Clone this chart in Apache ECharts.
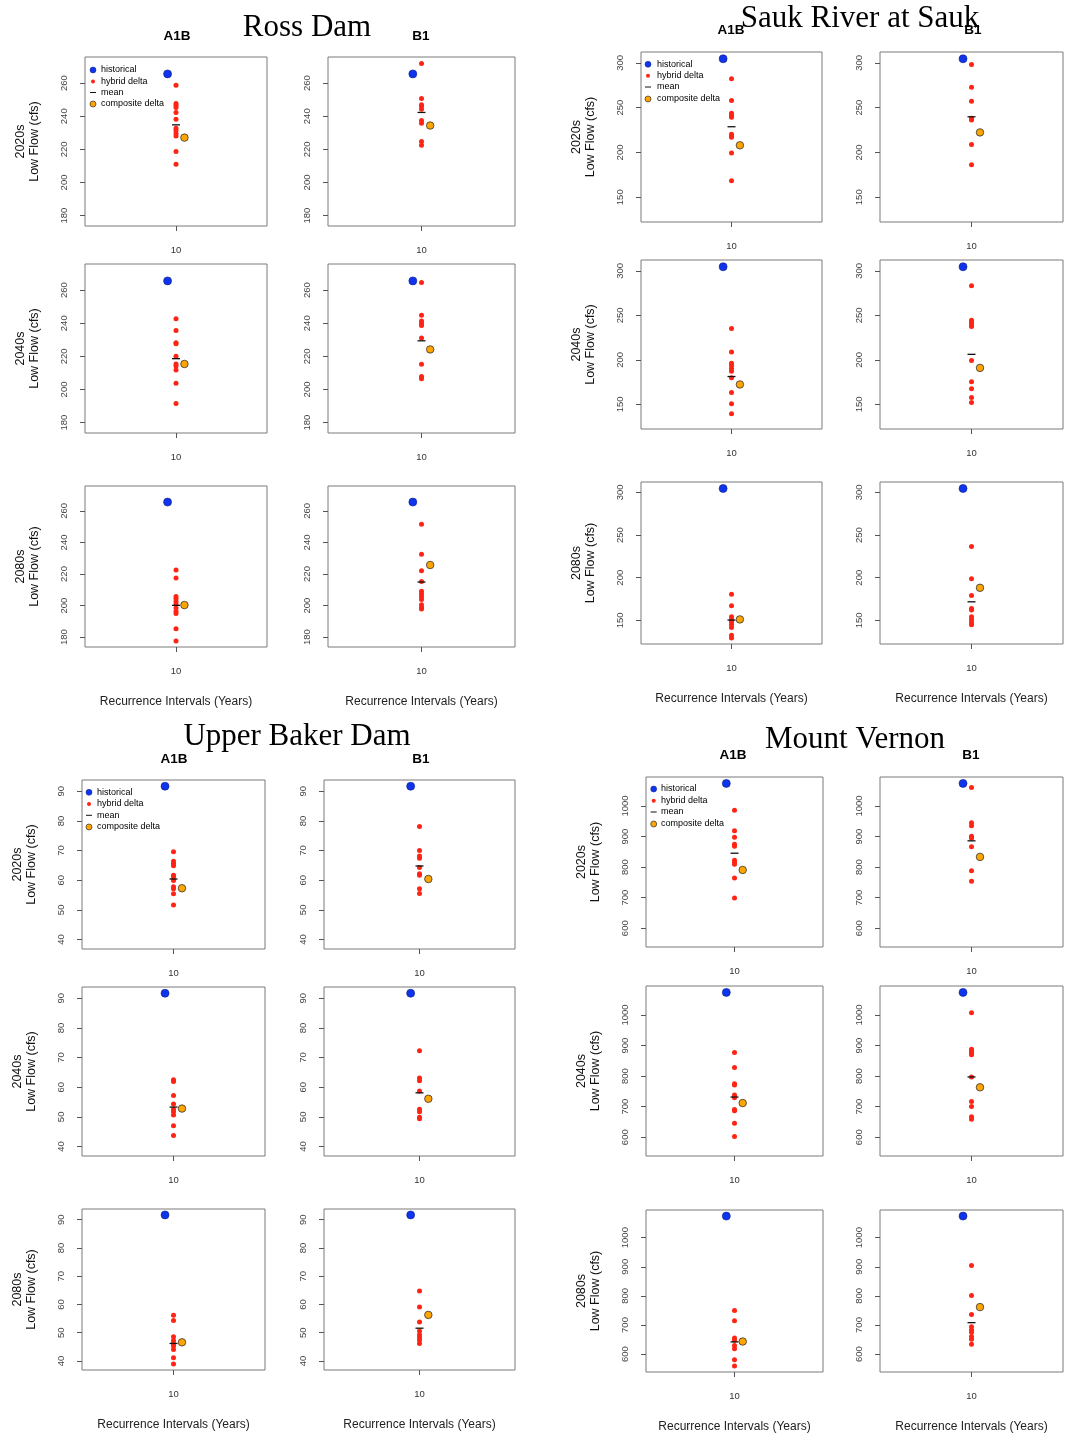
<!DOCTYPE html>
<html><head><meta charset="utf-8">
<script src="https://cdn.jsdelivr.net/npm/echarts@6/dist/echarts.min.js"></script>
<style>html,body{margin:0;padding:0;background:#fff}#c{width:1066px;height:1437px}</style>
</head><body><div id="c"></div>
<script>
// ================= DATA =================
const periods = ['2020s', '2040s', '2080s'];
const scenarios = ['A1B', 'B1'];
const xTicks = [10];

// ---- Ross Dam ----
const rossHistorical = 265.6;
const rossA1B_2020s = [258.8, 247.7, 246.5, 245.3, 242.3, 238.2, 232.8, 231.4, 229.6, 228.0, 218.7, 211.0];
const rossB1_2020s  = [271.9, 250.7, 246.9, 246.0, 244.3, 237.4, 235.8, 224.7, 222.5];
const rossA1B_2040s = [242.7, 235.7, 228.2, 227.6, 220.0, 215.4, 214.2, 211.8, 203.7, 191.5];
const rossB1_2040s  = [264.6, 244.9, 241.3, 239.9, 238.7, 231.1, 215.2, 207.9, 206.5];
const rossA1B_2080s = [222.5, 217.5, 205.8, 204.3, 202.6, 200.9, 198.4, 196.3, 195.0, 185.3, 177.5];
const rossB1_2080s  = [251.5, 232.5, 222.1, 215.3, 209.0, 207.3, 205.6, 203.9, 200.5, 198.8, 197.8];
const rossMeanA1B = [234.8, 218.6, 200.1];
const rossMeanB1  = [242.3, 229.4, 214.9];
const rossCompositeA1B = [227.1, 215.4, 200.3];
const rossCompositeB1  = [234.4, 224.2, 225.7];
const rossYTicks = [180, 200, 220, 240, 260];

// ---- Sauk River at Sauk ----
const saukHistorical = 304.5;
const saukA1B_2020s = [282.3, 257.9, 243.8, 241.6, 239.4, 220.2, 218.4, 216.9, 199.3, 168.5];
const saukB1_2020s  = [298.2, 272.7, 257.1, 238.3, 236.1, 208.8, 186.2];
const saukA1B_2040s = [235.2, 208.8, 196.1, 193.6, 190.2, 187.2, 179.8, 163.4, 150.7, 139.6];
const saukB1_2040s  = [283.3, 244.5, 241.9, 239.3, 237.5, 199.2, 175.3, 167.5, 157.8, 152.2];
const saukA1B_2080s = [180.8, 167.2, 154.3, 151.2, 148.1, 145.0, 141.8, 132.5, 129.4];
const saukB1_2080s  = [236.5, 198.8, 179.2, 164.0, 162.1, 154.3, 151.2, 147.7, 145.0];
const saukMeanA1B = [228.7, 181.3, 150.4];
const saukMeanB1  = [239.8, 206.2, 171.8];
const saukCompositeA1B = [208.0, 172.4, 151.2];
const saukCompositeB1  = [222.4, 191.0, 188.2];
const saukYTicks = [150, 200, 250, 300];

// ---- Upper Baker Dam ----
const bakerHistorical = 91.7;
const bakerA1B_2020s = [69.6, 66.4, 65.6, 64.9, 61.7, 61.1, 59.9, 57.8, 57.1, 55.4, 51.6];
const bakerB1_2020s  = [78.1, 70.0, 68.2, 67.4, 64.3, 62.2, 61.7, 57.1, 55.5];
const bakerA1B_2040s = [62.5, 61.9, 57.2, 54.3, 52.6, 51.7, 50.6, 47.0, 43.7];
const bakerB1_2040s  = [72.3, 63.1, 62.2, 58.7, 52.6, 51.7, 49.9, 49.4];
const bakerA1B_2080s = [56.2, 54.3, 48.6, 47.2, 46.2, 45.3, 44.1, 41.1, 38.9];
const bakerB1_2080s  = [64.8, 59.1, 53.8, 50.6, 49.3, 48.4, 47.4, 46.2];
const bakerMeanA1B = [60.4, 53.3, 46.2];
const bakerMeanB1  = [64.8, 58.1, 51.6];
const bakerCompositeA1B = [57.3, 52.8, 46.6];
const bakerCompositeB1  = [60.4, 56.1, 56.3];
const bakerYTicks = [40, 50, 60, 70, 80, 90];

// ---- Mount Vernon ----
const vernonHistorical = 1074;
const vernonA1B_2020s = [985.8, 918.9, 898.1, 875.1, 868.5, 822.5, 815.9, 809.3, 764.4, 698.6];
const vernonB1_2020s  = [1060.3, 945.2, 935.3, 901.4, 894.8, 866.3, 788.5, 753.4];
const vernonA1B_2040s = [877.3, 827.9, 775.3, 770.9, 738.0, 729.3, 690.9, 686.6, 646.0, 602.2];
const vernonB1_2040s  = [1007.7, 888.2, 881.6, 875.1, 869.6, 797.3, 717.3, 700.8, 666.8, 659.2];
const vernonA1B_2080s = [750.0, 714.8, 655.7, 647.7, 629.5, 618.2, 580.7, 559.1];
const vernonB1_2080s  = [904.5, 801.1, 736.4, 694.3, 683.0, 675.0, 660.2, 651.1, 634.1];
const vernonMeanA1B = [845.5, 731.5, 642.0];
const vernonMeanB1  = [886.0, 797.3, 708.0];
const vernonCompositeA1B = [790.7, 711.8, 643.2];
const vernonCompositeB1  = [833.4, 763.3, 761.4];
const vernonYTicks = [600, 700, 800, 900, 1000];

// ================= LAYOUT =================
const stations = [
  { title: 'Ross Dam', titlePos: [307, 28], scenPos: [[177, 36], [421, 36]],
    cols: [[85, 267], [328, 515]], rows: [[57, 226], [264, 433], [486, 647]],
    yRange: [173.7, 275.8], ticks: rossYTicks, hist: rossHistorical,
    hybrid: { A1B: [rossA1B_2020s, rossA1B_2040s, rossA1B_2080s], B1: [rossB1_2020s, rossB1_2040s, rossB1_2080s] },
    mean: { A1B: rossMeanA1B, B1: rossMeanB1 }, comp: { A1B: rossCompositeA1B, B1: rossCompositeB1 },
    legend: { mx: 93, tx: 101, ys: [70, 81.5, 92.5, 104] } },
  { title: 'Sauk River at Sauk', titlePos: [860, 19], scenPos: [[731, 30], [973, 30]],
    cols: [[641, 822], [880, 1063]], rows: [[52, 222], [260, 429], [482, 644]],
    yRange: [122.4, 312.1], ticks: saukYTicks, hist: saukHistorical,
    hybrid: { A1B: [saukA1B_2020s, saukA1B_2040s, saukA1B_2080s], B1: [saukB1_2020s, saukB1_2040s, saukB1_2080s] },
    mean: { A1B: saukMeanA1B, B1: saukMeanB1 }, comp: { A1B: saukCompositeA1B, B1: saukCompositeB1 },
    legend: { mx: 648, tx: 657, ys: [64.3, 75.7, 87, 99] } },
  { title: 'Upper Baker Dam', titlePos: [297, 737], scenPos: [[174, 759], [421, 759]],
    cols: [[82, 265], [324, 515]], rows: [[780, 949], [987, 1156], [1209, 1370]],
    yRange: [36.8, 93.8], ticks: bakerYTicks, hist: bakerHistorical,
    hybrid: { A1B: [bakerA1B_2020s, bakerA1B_2040s, bakerA1B_2080s], B1: [bakerB1_2020s, bakerB1_2040s, bakerB1_2080s] },
    mean: { A1B: bakerMeanA1B, B1: bakerMeanB1 }, comp: { A1B: bakerCompositeA1B, B1: bakerCompositeB1 },
    legend: { mx: 89, tx: 97, ys: [792.3, 804, 815.3, 827] } },
  { title: 'Mount Vernon', titlePos: [855, 740], scenPos: [[733, 755], [971, 755]],
    cols: [[646, 823], [880, 1063]], rows: [[777, 947], [986, 1156], [1210, 1372]],
    yRange: [538.5, 1095], ticks: vernonYTicks, hist: vernonHistorical,
    hybrid: { A1B: [vernonA1B_2020s, vernonA1B_2040s, vernonA1B_2080s], B1: [vernonB1_2020s, vernonB1_2040s, vernonB1_2080s] },
    mean: { A1B: vernonMeanA1B, B1: vernonMeanB1 }, comp: { A1B: vernonCompositeA1B, B1: vernonCompositeB1 },
    legend: { mx: 653.7, tx: 661, ys: [789, 800.7, 812, 824] } }
];

const SANS = 'Liberation Sans, Arial, Helvetica, sans-serif';
const SERIF = 'Liberation Serif, Times New Roman, serif';
const C_BLUE = '#0f34ec', C_RED = '#ff2414', C_ORANGE = '#ffa500';
const X_OFF = 0.4;

const option = { animation: false, grid: [], xAxis: [], yAxis: [], series: [], graphic: [] };

stations.forEach(st => {
  option.graphic.push({ type: 'text', x: st.titlePos[0], y: st.titlePos[1], z: 10,
    style: { text: st.title, fontFamily: SERIF, fontSize: 31, fill: '#000', align: 'center', verticalAlign: 'middle' } });
  st.scenPos.forEach((p, i) => option.graphic.push({ type: 'text', x: p[0], y: p[1], z: 9,
    style: { text: scenarios[i], fontFamily: SANS, fontSize: 13.5, fontWeight: 'bold', fill: '#000', align: 'center', verticalAlign: 'middle' } }));
  const L = st.legend;
  const lg = [
    ['historical', { type: 'circle', shape: { cx: L.mx, cy: L.ys[0], r: 3 }, style: { fill: C_BLUE, stroke: '#0d1f8a', lineWidth: 0.5 } }],
    ['hybrid delta', { type: 'circle', shape: { cx: L.mx, cy: L.ys[1], r: 2 }, style: { fill: C_RED } }],
    ['mean', { type: 'line', shape: { x1: L.mx - 3, y1: L.ys[2], x2: L.mx + 3, y2: L.ys[2] }, style: { stroke: '#111', lineWidth: 1 } }],
    ['composite delta', { type: 'circle', shape: { cx: L.mx, cy: L.ys[3], r: 3 }, style: { fill: C_ORANGE, stroke: '#333', lineWidth: 0.7 } }]
  ];
  lg.forEach((it, i) => {
    it[1].z = 20;
    option.graphic.push(it[1]);
    option.graphic.push({ type: 'text', x: L.tx, y: L.ys[i], z: 20,
      style: { text: it[0], fontFamily: SANS, fontSize: 9, fill: '#000', align: 'left', verticalAlign: 'middle' } });
  });

  st.rows.forEach((r, ri) => {
    st.cols.forEach((c, ci) => {
      const g = option.grid.length;
      const scen = scenarios[ci];
      option.grid.push({ left: c[0], top: r[0], width: c[1] - c[0], height: r[1] - r[0],
        show: true, borderColor: '#7a7a7a', borderWidth: 1, backgroundColor: 'transparent' });
      option.xAxis.push({ gridIndex: g, type: 'value', min: 5.68, max: 14.32,
        axisLine: { show: false },
        axisTick: { show: true, customValues: xTicks, length: 5, lineStyle: { color: '#555' } },
        axisLabel: { customValues: xTicks, formatter: v => String(v), margin: 19, fontSize: 9.5, fontFamily: SANS, color: '#333' },
        splitLine: { show: false },
        name: ri === 2 ? 'Recurrence Intervals (Years)' : '', nameLocation: 'middle', nameGap: 49,
        nameTextStyle: { fontSize: 12, fontFamily: SANS, color: '#222' } });
      option.yAxis.push({ gridIndex: g, type: 'value', min: st.yRange[0], max: st.yRange[1],
        axisLine: { show: false },
        axisTick: { show: true, customValues: st.ticks, length: 5, lineStyle: { color: '#555' } },
        axisLabel: { customValues: st.ticks, formatter: v => String(v), rotate: 90, margin: 15.5, fontSize: 9.5, fontFamily: SANS, color: '#444' },
        splitLine: { show: false },
        name: ci === 0 ? periods[ri] + '\nLow Flow (cfs)' : '', nameLocation: 'middle', nameRotate: 90, nameGap: 43,
        nameTextStyle: { fontSize: 12.5, fontFamily: SANS, color: '#111', lineHeight: 14 } });
      const base = { type: 'scatter', xAxisIndex: g, yAxisIndex: g, silent: true };
      option.series.push(
        Object.assign({}, base, { name: 'historical', data: [[xTicks[0] - X_OFF, st.hist]], symbolSize: 8,
          itemStyle: { color: C_BLUE, opacity: 1, borderColor: '#0d1f8a', borderWidth: 0.6 } }),
        Object.assign({}, base, { name: 'hybrid delta', data: st.hybrid[scen][ri].map(v => [xTicks[0], v]), symbolSize: 5,
          itemStyle: { color: C_RED, opacity: 1 } }),
        Object.assign({}, base, { name: 'mean', data: [[xTicks[0], st.mean[scen][ri]]], symbol: 'rect', symbolSize: [8, 1.3],
          itemStyle: { color: '#111', opacity: 1 } }),
        Object.assign({}, base, { name: 'composite delta', data: [[xTicks[0] + X_OFF, st.comp[scen][ri]]], symbolSize: 7.5,
          itemStyle: { color: C_ORANGE, opacity: 1, borderColor: '#333', borderWidth: 0.8 } })
      );
    });
  });
});

const chart = echarts.init(document.getElementById('c'), null, { renderer: 'canvas' });
chart.setOption(option);
</script>
</body></html>
